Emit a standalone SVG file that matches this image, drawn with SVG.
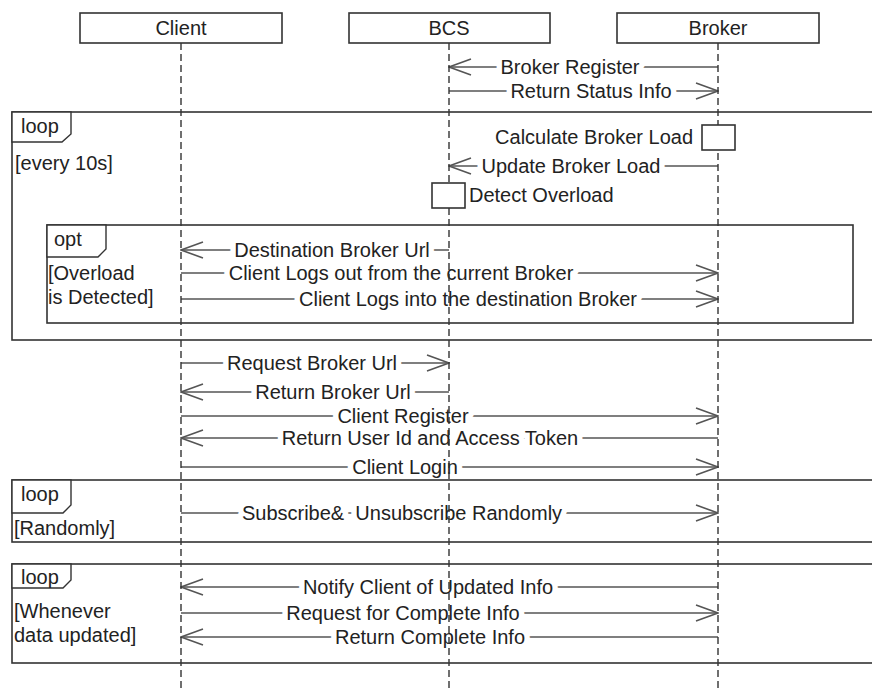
<svg xmlns="http://www.w3.org/2000/svg" width="872" height="692" viewBox="0 0 872 692">
<style>
text{font-family:"Liberation Sans",Arial,sans-serif;font-size:20px;fill:#222}
.hdr{fill:#fff;stroke:#333;stroke-width:1.6}
.life{stroke:#333;stroke-width:1.4;stroke-dasharray:7 4;fill:none}
.frame{fill:none;stroke:#333;stroke-width:1.6}
.tab{fill:#fff;stroke:#333;stroke-width:1.4}
.msg{stroke:#555;stroke-width:1.6;fill:none;marker-end:url(#open)}
.lbl{text-anchor:middle;paint-order:stroke;stroke:#fff;stroke-width:11px;stroke-linejoin:round}
.act{fill:#fff;stroke:#333;stroke-width:1.6}
</style>
<defs>
<marker id="open" viewBox="0 0 24 18" refX="23" refY="9" markerWidth="24" markerHeight="18" markerUnits="userSpaceOnUse" orient="auto">
<path d="M1,1 L23,9 L1,17" fill="none" stroke="#555" stroke-width="1.6"/>
</marker>
</defs>
<rect width="872" height="692" fill="#fff"/>

<g id="connectors">
<line class="msg" x1="718" y1="67" x2="449" y2="67"/>
<text class="lbl" x="570" y="74">Broker Register</text>
<line class="msg" x1="449" y1="91" x2="718" y2="91"/>
<text class="lbl" x="591" y="98">Return Status Info</text>
<line class="msg" x1="718" y1="166" x2="449" y2="166"/>
<text class="lbl" x="571" y="173">Update Broker Load</text>
<line class="msg" x1="449" y1="250" x2="181" y2="250"/>
<text class="lbl" x="332" y="257">Destination Broker Url</text>
<line class="msg" x1="181" y1="273" x2="718" y2="273"/>
<text class="lbl" x="401" y="280">Client Logs out from the current Broker</text>
<line class="msg" x1="181" y1="299" x2="718" y2="299"/>
<text class="lbl" x="468" y="306">Client Logs into the destination Broker</text>
<line class="msg" x1="181" y1="363" x2="449" y2="363"/>
<text class="lbl" x="312" y="370">Request Broker Url</text>
<line class="msg" x1="449" y1="392" x2="181" y2="392"/>
<text class="lbl" x="333" y="399">Return Broker Url</text>
<line class="msg" x1="181" y1="416" x2="718" y2="416"/>
<text class="lbl" x="403" y="423">Client Register</text>
<line class="msg" x1="718" y1="438" x2="181" y2="438"/>
<text class="lbl" x="430" y="445">Return User Id and Access Token</text>
<line class="msg" x1="181" y1="467" x2="718" y2="467"/>
<text class="lbl" x="405" y="474">Client Login</text>
<line class="msg" x1="181" y1="513" x2="718" y2="513"/>
<text class="lbl" x="402" y="520">Subscribe&amp;&#160; Unsubscribe Randomly</text>
<line class="msg" x1="718" y1="587" x2="181" y2="587"/>
<text class="lbl" x="428" y="594">Notify Client of Updated Info</text>
<line class="msg" x1="181" y1="613" x2="718" y2="613"/>
<text class="lbl" x="403" y="620">Request for Complete Info</text>
<line class="msg" x1="718" y1="637" x2="181" y2="637"/>
<text class="lbl" x="430" y="644">Return Complete Info</text>
</g>

<g id="frames">
<g id="loop1">
<rect class="frame" x="12" y="112" width="880" height="228"/>
<path class="tab" d="M12,112 H71 V134 L62,142 H12 Z"/>
<text x="21" y="133">loop</text>
<text x="15" y="170">[every 10s]</text>
</g>
<g id="opt1">
<rect class="frame" x="47" y="225" width="806" height="98"/>
<path class="tab" d="M47,225 H106 V249 L98,257 H47 Z"/>
<text x="54" y="246">opt</text>
<text x="48" y="280">[Overload</text>
<text x="48" y="304">is Detected]</text>
</g>
<g id="loop2">
<rect class="frame" x="12" y="480" width="880" height="62"/>
<path class="tab" d="M12,480 H71 V505 L63,513 H12 Z"/>
<text x="21" y="501">loop</text>
<text x="14" y="535">[Randomly]</text>
</g>
<g id="loop3">
<rect class="frame" x="12" y="564" width="880" height="99"/>
<path class="tab" d="M12,564 H71 V580 L63,588 H12 Z"/>
<text x="21" y="584">loop</text>
<text x="14" y="618">[Whenever</text>
<text x="14" y="642">data updated]</text>
</g>
</g>

<g id="Client">
<rect class="hdr" x="80" y="13" width="202" height="30"/>
<text x="181" y="35" text-anchor="middle">Client</text>
<line class="life" x1="181" y1="43" x2="181" y2="692"/>
</g>
<g id="BCS">
<rect class="hdr" x="349" y="13" width="201" height="30"/>
<text x="449" y="35" text-anchor="middle">BCS</text>
<line class="life" x1="449" y1="43" x2="449" y2="692"/>
<rect class="act" x="432" y="183" width="33" height="25"/>
<text x="469" y="202">Detect Overload</text>
</g>
<g id="Broker">
<rect class="hdr" x="617" y="13" width="202" height="30"/>
<text x="718" y="35" text-anchor="middle">Broker</text>
<line class="life" x1="718" y1="43" x2="718" y2="692"/>
<rect class="act" x="702" y="125" width="33" height="25"/>
<text x="693" y="144" text-anchor="end">Calculate Broker Load</text>
</g>
</svg>
